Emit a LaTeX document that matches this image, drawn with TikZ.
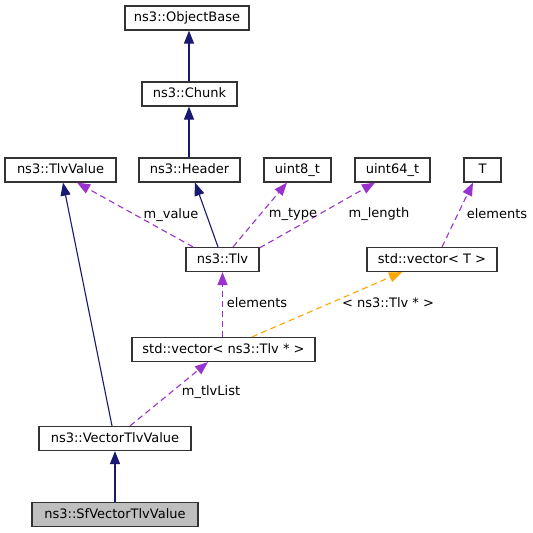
\documentclass[tikz,border=0pt]{standalone}
\usepackage{fontspec}
\setmainfont{DejaVu Sans}
\usetikzlibrary{arrows.meta,calc}
\definecolor{navy}{HTML}{191970}
\definecolor{purp}{HTML}{9A32CD}
\definecolor{orng}{HTML}{FFA500}
\definecolor{bord}{HTML}{333333}
\definecolor{fillg}{HTML}{BFBFBF}
\begin{document}
\begin{tikzpicture}[x=1pt,y=-1pt,
  txt/.style={font=\fontsize{13}{15}\selectfont},
  cls/.style={txt,draw=bord,line width=1.2pt,fill=white,inner sep=0pt,minimum height=24pt,text height=9.5pt,text depth=2.5pt},
  cur/.style={cls,fill=fillg},
  tip/.style={-{Triangle[length=13pt,width=10pt]}},
  inh/.style={navy,line width=1.1pt,tip},
  use/.style={purp,line width=1.1pt,dash pattern=on 6pt off 4pt,tip},
  tmpl/.style={orng,line width=1.1pt,dash pattern=on 6pt off 4pt,tip},
  lbl/.style={txt,inner sep=0pt}]
\useasboundingbox (0,0) rectangle (533,533);
\fill[white] (0,0) rectangle (533,533);
% nodes
\node[cls,minimum width=124pt] (objbase) at (187,18) {ns3::ObjectBase};
\node[cls,minimum width=95pt] (chunk) at (189.5,94) {ns3::Chunk};
\node[cls,minimum width=111pt] (tlvvalue) at (60.5,170) {ns3::TlvValue};
\node[cls,minimum width=101pt] (header) at (189.5,170) {ns3::Header};
\node[cls,minimum width=67pt] (uint8) at (297.5,170) {uint8\_t};
\node[cls,minimum width=75pt] (uint64) at (392.5,170) {uint64\_t};
\node[cls,minimum width=37pt] (T) at (482.5,170) {T};
\node[cls,minimum width=73pt] (tlv) at (222.5,259.5) {ns3::Tlv};
\node[cls,minimum width=130pt] (vecT) at (432,259.5) {std::vector< T >};
\node[cls,minimum width=183pt] (vecTlv) at (223.5,349.5) {std::vector< ns3::Tlv * >};
\node[cls,minimum width=152pt] (vtv) at (115,438.5) {ns3::VectorTlvValue};
\node[cur,minimum width=166pt] (sfv) at (115,514.5) {ns3::SfVectorTlvValue};
% edges
\draw[inh] ([xshift=-0.5pt]chunk.north) -- ([xshift=2pt]objbase.south);
\draw[inh] ([xshift=-0.5pt]header.north) -- ([xshift=-0.5pt]chunk.south);
\draw[inh] ([xshift=-4.5pt]tlv.north) -- ([xshift=5.5pt]header.south);
\draw[use] ([xshift=-29.5pt]tlv.north) -- ([xshift=16.5pt]tlvvalue.south);
\draw[use] ([xshift=10.5pt]tlv.north) -- ([xshift=-10.5pt]uint8.south);
\draw[use] ([yshift=-1pt]tlv.north east) -- ([xshift=-17.5pt]uint64.south);
\draw[use] ([xshift=10pt]vecT.north) -- ([xshift=-9.5pt]T.south);
\draw[use] (tlv.south |- vecTlv.north) -- (tlv.south);
\draw[tmpl] ([xshift=28.5pt]vecTlv.north) -- ([xshift=-30pt]vecT.south);
\draw[inh] ([xshift=-3pt]vtv.north) -- ([xshift=2.5pt]tlvvalue.south);
\draw[use] ([xshift=15pt]vtv.north) -- ([xshift=-15.5pt]vecTlv.south);
\draw[inh] (sfv.north) -- (vtv.south);
% labels
\node[lbl] (lvalue) at (171,215) {m\_value};
\node[lbl] (ltype) at (293,214) {m\_type};
\node[lbl] (llength) at (379,214) {m\_length};
\node[lbl] (lel1) at (497,214) {elements};
\node[lbl] (lel2) at (257,303) {elements};
\node[lbl] (ltmpl) at (388,303) {< ns3::Tlv * >};
\node[lbl] (llist) at (211,392) {m\_tlvList};
\end{tikzpicture}
\end{document}
